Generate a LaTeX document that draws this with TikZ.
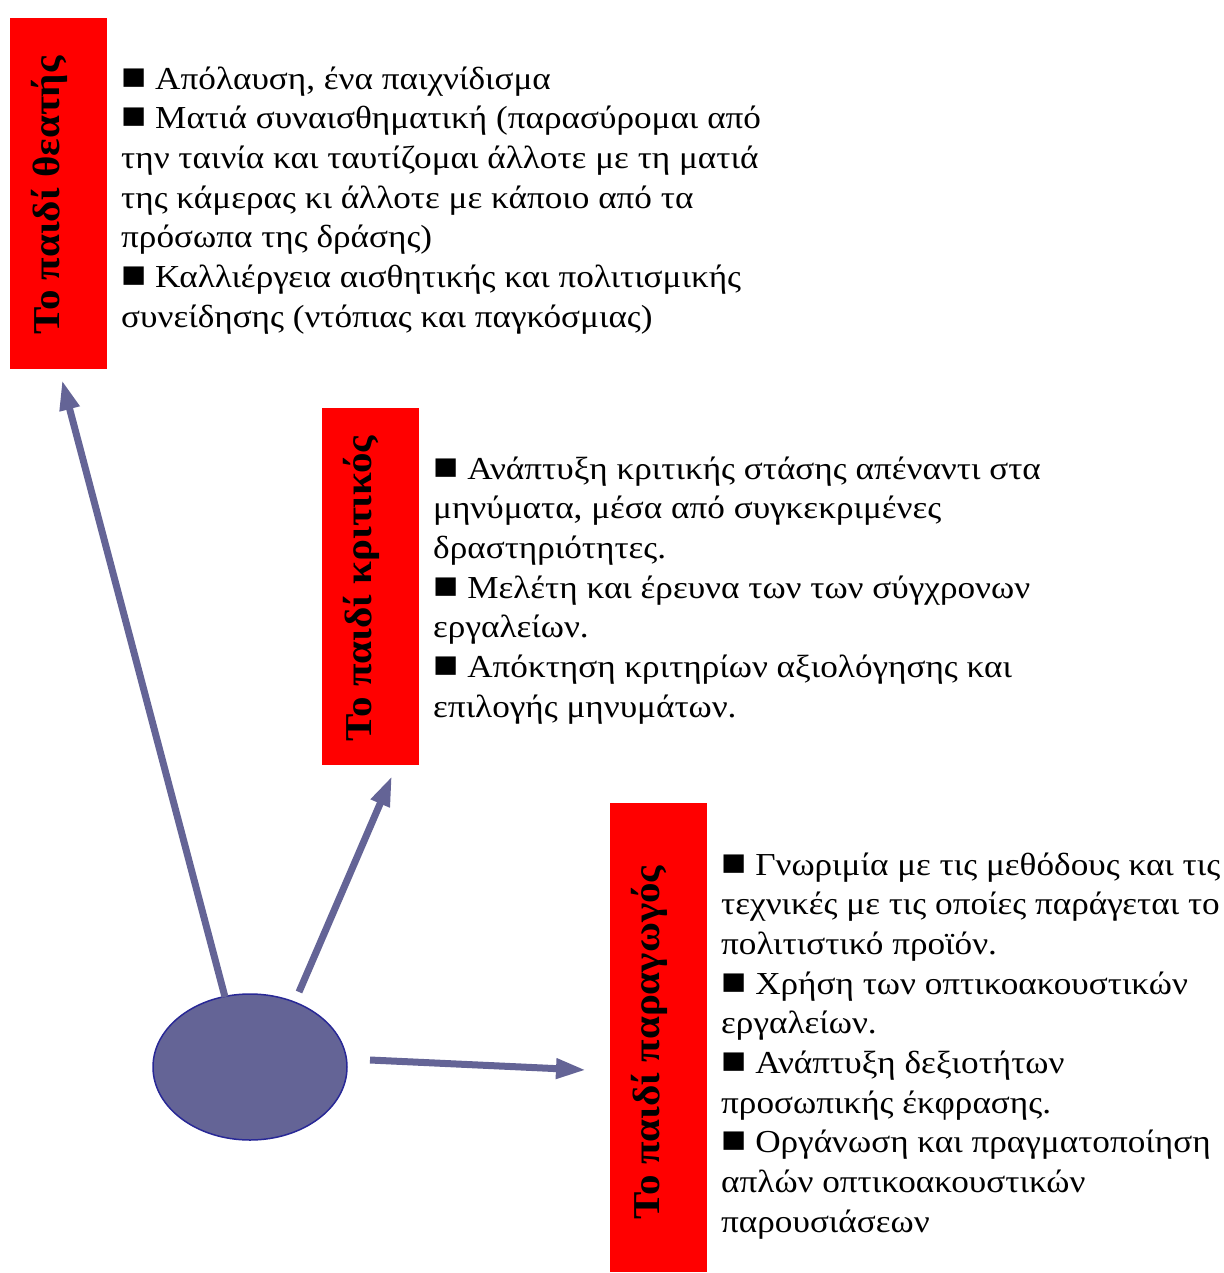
\documentclass[tikz,border=0pt]{standalone}
\usepackage{fontspec}
\setmainfont{Liberation Serif}
\newfontfamily\bodyfont[FakeStretch=1.1]{Liberation Serif}
\newfontfamily\labelfont[FakeStretch=1.08]{Liberation Serif}
\usetikzlibrary{arrows.meta,shapes.geometric}
\definecolor{arr}{RGB}{100,100,150}
\definecolor{edgeblue}{RGB}{40,40,150}
\newcommand{\bul}{{\fontsize{38}{39.7}\selectfont ■}}
\begin{document}
\begin{tikzpicture}[x=1pt,y=-1pt,
 redbox/.style={fill=red, draw=none, inner sep=0, minimum width=97pt},
 vlabel/.style={rotate=90, anchor=base, font=\labelfont\fontsize{38}{40}\selectfont\bfseries, inner sep=0},
 body/.style={anchor=base west, align=left, inner sep=0, font=\bodyfont\fontsize{32}{39.7}\selectfont},
 conn/.style={draw=arr, line width=7pt, -{Triangle[length=30pt,width=19pt]}}
]
\useasboundingbox (0,0) rectangle (1223,1273);
% red boxes
\node[redbox, minimum height=351pt] (b1) at (58.5,193.5) {};
\node[redbox, minimum height=357pt] (b2) at (370.5,586.5) {};
\node[redbox, minimum height=469pt] (b3) at (658.5,1037.5) {};
% vertical labels
\node[vlabel] (l1) at ([xshift=50pt,yshift=-2pt]b1.west) {Το παιδί θεατής};
\node[vlabel] (l2) at ([xshift=50pt,yshift=-2pt]b2.west) {Το παιδί κριτικός};
\node[vlabel] (l3) at ([xshift=50pt,yshift=-5pt]b3.west) {Το παιδί παραγωγός};
% text blocks (anchored at the baseline of their last line)
\node[body] (t1) at (121,327.2) {\bul{} Απόλαυση, ένα παιχνίδισμα\\
\bul{} Ματιά συναισθηματική (παρασύρομαι από\\
την ταινία και ταυτίζομαι άλλοτε με τη ματιά\\
της κάμερας κι άλλοτε με κάποιο από τα\\
πρόσωπα της δράσης)\\
\bul{} Καλλιέργεια αισθητικής και πολιτισμικής\\
συνείδησης (ντόπιας και παγκόσμιας)};
\node[body] (t2) at (433,717.2) {\bul{} Ανάπτυξη κριτικής στάσης απέναντι στα\\
μηνύματα, μέσα από συγκεκριμένες\\
δραστηριότητες.\\
\bul{} Μελέτη και έρευνα των των σύγχρονων\\
εργαλείων.\\
\bul{} Απόκτηση κριτηρίων αξιολόγησης και\\
επιλογής μηνυμάτων.};
\node[body] (t3) at (721,1232.3) {\bul{} Γνωριμία με τις μεθόδους και τις\\
τεχνικές με τις οποίες παράγεται το\\
πολιτιστικό προϊόν.\\
\bul{} Χρήση των οπτικοακουστικών\\
εργαλείων.\\
\bul{} Ανάπτυξη δεξιοτήτων\\
προσωπικής έκφρασης.\\
\bul{} Οργάνωση και πραγματοποίηση\\
απλών οπτικοακουστικών\\
παρουσιάσεων};
% central ellipse
\node[ellipse, fill=arr, draw=edgeblue, line width=1.5pt, minimum width=194pt, minimum height=146pt, inner sep=0] (ell) at (250,1067) {};
% connector ends
\coordinate (a1s) at (225,997);
\coordinate (a1e) at (62,380);
\coordinate (a2s) at (299,992);
\coordinate (a2e) at (392,776);
\coordinate (a3s) at (370,1060);
\coordinate (a3e) at (586,1070);
\draw[conn] (a1s) -- (a1e);
\draw[conn] (a2s) -- (a2e);
\draw[conn] (a3s) -- (a3e);
\end{tikzpicture}
\end{document}
